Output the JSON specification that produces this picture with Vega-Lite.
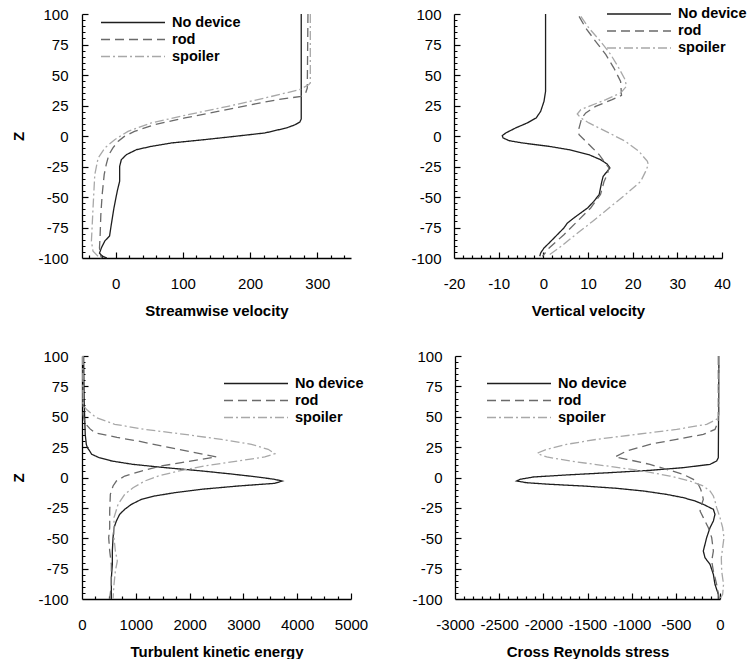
{
  "$schema": "https://vega.github.io/schema/vega-lite/v6.json",
  "padding": {"left": 11, "top": 6, "right": 0, "bottom": 0},
  "background": "white",
  "config": {
    "view": {"stroke": null},
    "font": "Liberation Sans",
    "axis": {
      "grid": false,
      "domainColor": "#000000",
      "domainWidth": 1.3,
      "tickColor": "#000000",
      "tickWidth": 1.2,
      "labelOverlap": false,
      "labelFlush": false,
      "labelFont": "Liberation Sans",
      "labelFontSize": 15,
      "labelColor": "#000000",
      "titleFont": "Liberation Sans",
      "titleFontSize": 15,
      "titleFontWeight": "bold",
      "titleColor": "#000000"
    },
    "legend": {
      "orient": "none",
      "title": null,
      "symbolType": "stroke",
      "symbolSize": 4096,
      "symbolStrokeWidth": 1.3,
      "labelFont": "Liberation Sans",
      "labelFontSize": 14.5,
      "labelFontWeight": "bold",
      "labelColor": "#000000",
      "labelOffset": 6,
      "rowPadding": 1,
      "clipHeight": 15,
      "padding": 0
    }
  },
  "data": {"values": [
    {"p":"sw","s":"No device","z":100,"v":276},{"p":"sw","s":"No device","z":14,"v":276},{"p":"sw","s":"No device","z":11.5,"v":274},{"p":"sw","s":"No device","z":9,"v":266},{"p":"sw","s":"No device","z":6.6,"v":254},{"p":"sw","s":"No device","z":2.5,"v":222},{"p":"sw","s":"No device","z":-0.3,"v":177},{"p":"sw","s":"No device","z":-3,"v":132},{"p":"sw","s":"No device","z":-5.7,"v":83},{"p":"sw","s":"No device","z":-8.5,"v":53},{"p":"sw","s":"No device","z":-11.2,"v":31},{"p":"sw","s":"No device","z":-15.3,"v":16},{"p":"sw","s":"No device","z":-19.4,"v":8.5},{"p":"sw","s":"No device","z":-24.9,"v":6},{"p":"sw","s":"No device","z":-37,"v":6},{"p":"sw","s":"No device","z":-45,"v":2.5},{"p":"sw","s":"No device","z":-58.7,"v":-2.4},{"p":"sw","s":"No device","z":-72.4,"v":-6.4},{"p":"sw","s":"No device","z":-82,"v":-9},{"p":"sw","s":"No device","z":-86,"v":-16},{"p":"sw","s":"No device","z":-91.5,"v":-21},{"p":"sw","s":"No device","z":-96,"v":-24},{"p":"sw","s":"No device","z":-98.5,"v":-20},{"p":"sw","s":"No device","z":-100,"v":-13},
    {"p":"sw","s":"rod","z":100,"v":286},{"p":"sw","s":"rod","z":39.3,"v":285},{"p":"sw","s":"rod","z":35.2,"v":282.5},{"p":"sw","s":"rod","z":32.5,"v":276},{"p":"sw","s":"rod","z":29.8,"v":241},{"p":"sw","s":"rod","z":25.7,"v":202},{"p":"sw","s":"rod","z":20.2,"v":152},{"p":"sw","s":"rod","z":14.8,"v":103},{"p":"sw","s":"rod","z":9.3,"v":58},{"p":"sw","s":"rod","z":3.8,"v":28},{"p":"sw","s":"rod","z":-0.3,"v":13},{"p":"sw","s":"rod","z":-4.4,"v":3.5},{"p":"sw","s":"rod","z":-9.8,"v":-4},{"p":"sw","s":"rod","z":-15.3,"v":-10},{"p":"sw","s":"rod","z":-23.5,"v":-14},{"p":"sw","s":"rod","z":-31.7,"v":-17},{"p":"sw","s":"rod","z":-48,"v":-20},{"p":"sw","s":"rod","z":-64.5,"v":-22},{"p":"sw","s":"rod","z":-80.9,"v":-23},{"p":"sw","s":"rod","z":-91.8,"v":-24},{"p":"sw","s":"rod","z":-98.6,"v":-22},{"p":"sw","s":"rod","z":-100,"v":-20},
    {"p":"sw","s":"spoiler","z":100,"v":289.5},{"p":"sw","s":"spoiler","z":43.4,"v":289.5},{"p":"sw","s":"spoiler","z":42,"v":287},{"p":"sw","s":"spoiler","z":38,"v":273.6},{"p":"sw","s":"spoiler","z":31.1,"v":221.6},{"p":"sw","s":"spoiler","z":24.3,"v":167},{"p":"sw","s":"spoiler","z":17.5,"v":107.6},{"p":"sw","s":"spoiler","z":10.7,"v":53},{"p":"sw","s":"spoiler","z":3.8,"v":18.4},{"p":"sw","s":"spoiler","z":-3,"v":-1.4},{"p":"sw","s":"spoiler","z":-9.8,"v":-16},{"p":"sw","s":"spoiler","z":-18,"v":-26},{"p":"sw","s":"spoiler","z":-31.7,"v":-31},{"p":"sw","s":"spoiler","z":-59,"v":-33.6},{"p":"sw","s":"spoiler","z":-86.3,"v":-36},{"p":"sw","s":"spoiler","z":-94.5,"v":-33.6},{"p":"sw","s":"spoiler","z":-98.6,"v":-26},{"p":"sw","s":"spoiler","z":-100,"v":-22},
    {"p":"vv","s":"No device","z":100,"v":0.5},{"p":"vv","s":"No device","z":36.6,"v":0.5},{"p":"vv","s":"No device","z":28.4,"v":0.15},{"p":"vv","s":"No device","z":20.2,"v":-0.6},{"p":"vv","s":"No device","z":14.8,"v":-1.6},{"p":"vv","s":"No device","z":10.7,"v":-3.6},{"p":"vv","s":"No device","z":6.6,"v":-6.2},{"p":"vv","s":"No device","z":2.5,"v":-8.4},{"p":"vv","s":"No device","z":0.3,"v":-9.2},{"p":"vv","s":"No device","z":-1.6,"v":-9},{"p":"vv","s":"No device","z":-3.8,"v":-7.7},{"p":"vv","s":"No device","z":-5.7,"v":-4.7},{"p":"vv","s":"No device","z":-8.5,"v":1.3},{"p":"vv","s":"No device","z":-11.2,"v":5.7},{"p":"vv","s":"No device","z":-15.3,"v":10.2},{"p":"vv","s":"No device","z":-19.4,"v":12.8},{"p":"vv","s":"No device","z":-23,"v":14.3},{"p":"vv","s":"No device","z":-26.2,"v":14.9},{"p":"vv","s":"No device","z":-29,"v":14.3},{"p":"vv","s":"No device","z":-33,"v":13.4},{"p":"vv","s":"No device","z":-37.2,"v":13.1},{"p":"vv","s":"No device","z":-42.6,"v":12.8},{"p":"vv","s":"No device","z":-48,"v":12.5},{"p":"vv","s":"No device","z":-53.6,"v":11.3},{"p":"vv","s":"No device","z":-59,"v":9.9},{"p":"vv","s":"No device","z":-63,"v":8.4},{"p":"vv","s":"No device","z":-67,"v":6.9},{"p":"vv","s":"No device","z":-71.3,"v":5.4},{"p":"vv","s":"No device","z":-75.4,"v":4.6},{"p":"vv","s":"No device","z":-79.5,"v":3.5},{"p":"vv","s":"No device","z":-83.6,"v":2.4},{"p":"vv","s":"No device","z":-87.7,"v":1.3},{"p":"vv","s":"No device","z":-91.8,"v":0.15},{"p":"vv","s":"No device","z":-95.9,"v":-0.6},{"p":"vv","s":"No device","z":-98.6,"v":-0.8},
    {"p":"vv","s":"rod","z":98,"v":8},{"p":"vv","s":"rod","z":88.5,"v":9.5},{"p":"vv","s":"rod","z":77.6,"v":11.7},{"p":"vv","s":"rod","z":66.7,"v":14},{"p":"vv","s":"rod","z":55.7,"v":15.8},{"p":"vv","s":"rod","z":44.8,"v":17.3},{"p":"vv","s":"rod","z":33.3,"v":17.5},{"p":"vv","s":"rod","z":29.8,"v":15.4},{"p":"vv","s":"rod","z":24.3,"v":11.7},{"p":"vv","s":"rod","z":18.9,"v":9.5},{"p":"vv","s":"rod","z":14.8,"v":8.6},{"p":"vv","s":"rod","z":12,"v":8.4},{"p":"vv","s":"rod","z":3.8,"v":7.8},{"p":"vv","s":"rod","z":1.1,"v":8},{"p":"vv","s":"rod","z":-4.4,"v":9.5},{"p":"vv","s":"rod","z":-9.8,"v":11},{"p":"vv","s":"rod","z":-15.3,"v":12.5},{"p":"vv","s":"rod","z":-20.8,"v":13.6},{"p":"vv","s":"rod","z":-26.2,"v":14.7},{"p":"vv","s":"rod","z":-31.7,"v":14.3},{"p":"vv","s":"rod","z":-37.2,"v":13.6},{"p":"vv","s":"rod","z":-48,"v":12.8},{"p":"vv","s":"rod","z":-59,"v":10.6},{"p":"vv","s":"rod","z":-70,"v":7.6},{"p":"vv","s":"rod","z":-80.9,"v":4.6},{"p":"vv","s":"rod","z":-91.8,"v":1.3},{"p":"vv","s":"rod","z":-98.6,"v":-0.2},
    {"p":"vv","s":"spoiler","z":98,"v":8.4},{"p":"vv","s":"spoiler","z":88.5,"v":10.2},{"p":"vv","s":"spoiler","z":77.6,"v":12.8},{"p":"vv","s":"spoiler","z":66.7,"v":15.1},{"p":"vv","s":"spoiler","z":55.7,"v":16.9},{"p":"vv","s":"spoiler","z":46.2,"v":18.3},{"p":"vv","s":"spoiler","z":40.7,"v":18.6},{"p":"vv","s":"spoiler","z":35.2,"v":17.3},{"p":"vv","s":"spoiler","z":29.8,"v":14},{"p":"vv","s":"spoiler","z":24.3,"v":10.2},{"p":"vv","s":"spoiler","z":21.6,"v":8.4},{"p":"vv","s":"spoiler","z":18,"v":7.6},{"p":"vv","s":"spoiler","z":14.8,"v":8.4},{"p":"vv","s":"spoiler","z":10.7,"v":10.2},{"p":"vv","s":"spoiler","z":3.8,"v":14},{"p":"vv","s":"spoiler","z":-4.4,"v":18.4},{"p":"vv","s":"spoiler","z":-12.6,"v":21.4},{"p":"vv","s":"spoiler","z":-20.8,"v":23.3},{"p":"vv","s":"spoiler","z":-23.5,"v":23.5},{"p":"vv","s":"spoiler","z":-29,"v":22.9},{"p":"vv","s":"spoiler","z":-37.2,"v":21.8},{"p":"vv","s":"spoiler","z":-48,"v":18.4},{"p":"vv","s":"spoiler","z":-59,"v":14.7},{"p":"vv","s":"spoiler","z":-70,"v":11},{"p":"vv","s":"spoiler","z":-80.9,"v":7.2},{"p":"vv","s":"spoiler","z":-91.8,"v":3.5},{"p":"vv","s":"spoiler","z":-98.6,"v":0.9},
    {"p":"tke","s":"No device","z":100,"v":30},{"p":"tke","s":"No device","z":63,"v":40},{"p":"tke","s":"No device","z":35.5,"v":60},{"p":"tke","s":"No device","z":27.3,"v":80},{"p":"tke","s":"No device","z":24.6,"v":100},{"p":"tke","s":"No device","z":21.8,"v":143},{"p":"tke","s":"No device","z":19.1,"v":180},{"p":"tke","s":"No device","z":16.3,"v":320},{"p":"tke","s":"No device","z":13.6,"v":550},{"p":"tke","s":"No device","z":10.8,"v":950},{"p":"tke","s":"No device","z":8.1,"v":1550},{"p":"tke","s":"No device","z":5.5,"v":2200},{"p":"tke","s":"No device","z":3,"v":2750},{"p":"tke","s":"No device","z":0.5,"v":3250},{"p":"tke","s":"No device","z":-1.5,"v":3580},{"p":"tke","s":"No device","z":-2.9,"v":3720},{"p":"tke","s":"No device","z":-4.8,"v":3584},{"p":"tke","s":"No device","z":-7,"v":2902},{"p":"tke","s":"No device","z":-9.7,"v":2220},{"p":"tke","s":"No device","z":-12.5,"v":1724},{"p":"tke","s":"No device","z":-15.2,"v":1352},{"p":"tke","s":"No device","z":-18,"v":1104},{"p":"tke","s":"No device","z":-22.1,"v":918},{"p":"tke","s":"No device","z":-26.2,"v":794},{"p":"tke","s":"No device","z":-30.3,"v":700},{"p":"tke","s":"No device","z":-35.8,"v":639},{"p":"tke","s":"No device","z":-41.3,"v":595},{"p":"tke","s":"No device","z":-49.5,"v":577},{"p":"tke","s":"No device","z":-60.5,"v":564},{"p":"tke","s":"No device","z":-71.5,"v":564},{"p":"tke","s":"No device","z":-82.4,"v":546},{"p":"tke","s":"No device","z":-93.4,"v":546},{"p":"tke","s":"No device","z":-100,"v":546},
    {"p":"tke","s":"rod","z":100,"v":20},{"p":"tke","s":"rod","z":52,"v":20},{"p":"tke","s":"rod","z":45,"v":50},{"p":"tke","s":"rod","z":40,"v":150},{"p":"tke","s":"rod","z":36.9,"v":236},{"p":"tke","s":"rod","z":33,"v":650},{"p":"tke","s":"rod","z":30,"v":1042},{"p":"tke","s":"rod","z":23.2,"v":1786},{"p":"tke","s":"rod","z":16.9,"v":2499},{"p":"tke","s":"rod","z":15,"v":2220},{"p":"tke","s":"rod","z":12.2,"v":1848},{"p":"tke","s":"rod","z":9.5,"v":1476},{"p":"tke","s":"rod","z":5.3,"v":1104},{"p":"tke","s":"rod","z":1.2,"v":794},{"p":"tke","s":"rod","z":-2.9,"v":639},{"p":"tke","s":"rod","z":-7,"v":577},{"p":"tke","s":"rod","z":-13.9,"v":527},{"p":"tke","s":"rod","z":-27.6,"v":515},{"p":"tke","s":"rod","z":-41.3,"v":515},{"p":"tke","s":"rod","z":-49.5,"v":496},{"p":"tke","s":"rod","z":-60.5,"v":515},{"p":"tke","s":"rod","z":-71.5,"v":546},{"p":"tke","s":"rod","z":-87.9,"v":546},{"p":"tke","s":"rod","z":-100,"v":515},
    {"p":"tke","s":"spoiler","z":100,"v":15},{"p":"tke","s":"spoiler","z":60,"v":20},{"p":"tke","s":"spoiler","z":56.1,"v":81},{"p":"tke","s":"spoiler","z":49.2,"v":267},{"p":"tke","s":"spoiler","z":43.8,"v":608},{"p":"tke","s":"spoiler","z":39.6,"v":1166},{"p":"tke","s":"spoiler","z":35.5,"v":1910},{"p":"tke","s":"spoiler","z":31.4,"v":2592},{"p":"tke","s":"spoiler","z":27.3,"v":3150},{"p":"tke","s":"spoiler","z":23.2,"v":3460},{"p":"tke","s":"spoiler","z":19.6,"v":3584},{"p":"tke","s":"spoiler","z":16.9,"v":3398},{"p":"tke","s":"spoiler","z":13.6,"v":2902},{"p":"tke","s":"spoiler","z":9.5,"v":2282},{"p":"tke","s":"spoiler","z":5.3,"v":1786},{"p":"tke","s":"spoiler","z":1.2,"v":1414},{"p":"tke","s":"spoiler","z":-2.9,"v":1166},{"p":"tke","s":"spoiler","z":-8.4,"v":949},{"p":"tke","s":"spoiler","z":-13.9,"v":794},{"p":"tke","s":"spoiler","z":-22.1,"v":670},{"p":"tke","s":"spoiler","z":-33,"v":595},{"p":"tke","s":"spoiler","z":-49.5,"v":595},{"p":"tke","s":"spoiler","z":-60.5,"v":620},{"p":"tke","s":"spoiler","z":-68.7,"v":657},{"p":"tke","s":"spoiler","z":-77,"v":620},{"p":"tke","s":"spoiler","z":-87.9,"v":595},{"p":"tke","s":"spoiler","z":-100,"v":577},
    {"p":"rs","s":"No device","z":100,"v":-12},{"p":"rs","s":"No device","z":16.3,"v":-19},{"p":"rs","s":"No device","z":13.6,"v":-38},{"p":"rs","s":"No device","z":10.8,"v":-113},{"p":"rs","s":"No device","z":8.1,"v":-415},{"p":"rs","s":"No device","z":5.9,"v":-793},{"p":"rs","s":"No device","z":4,"v":-1245},{"p":"rs","s":"No device","z":2.1,"v":-1736},{"p":"rs","s":"No device","z":0.4,"v":-2113},{"p":"rs","s":"No device","z":-1.5,"v":-2264},{"p":"rs","s":"No device","z":-2.9,"v":-2302},{"p":"rs","s":"No device","z":-4.3,"v":-2189},{"p":"rs","s":"No device","z":-5.6,"v":-1925},{"p":"rs","s":"No device","z":-7,"v":-1547},{"p":"rs","s":"No device","z":-8.9,"v":-1170},{"p":"rs","s":"No device","z":-11.1,"v":-868},{"p":"rs","s":"No device","z":-13.9,"v":-604},{"p":"rs","s":"No device","z":-16.6,"v":-415},{"p":"rs","s":"No device","z":-19.3,"v":-283},{"p":"rs","s":"No device","z":-22.1,"v":-189},{"p":"rs","s":"No device","z":-26.2,"v":-75},{"p":"rs","s":"No device","z":-30.3,"v":-57},{"p":"rs","s":"No device","z":-35.8,"v":-75},{"p":"rs","s":"No device","z":-41.3,"v":-113},{"p":"rs","s":"No device","z":-49.5,"v":-151},{"p":"rs","s":"No device","z":-55,"v":-170},{"p":"rs","s":"No device","z":-60.5,"v":-189},{"p":"rs","s":"No device","z":-66,"v":-170},{"p":"rs","s":"No device","z":-71.5,"v":-113},{"p":"rs","s":"No device","z":-79.7,"v":-75},{"p":"rs","s":"No device","z":-87.9,"v":-57},{"p":"rs","s":"No device","z":-96.2,"v":-19},{"p":"rs","s":"No device","z":-100,"v":-19},
    {"p":"rs","s":"rod","z":100,"v":-19},{"p":"rs","s":"rod","z":46.5,"v":-19},{"p":"rs","s":"rod","z":39.6,"v":-57},{"p":"rs","s":"rod","z":35.5,"v":-189},{"p":"rs","s":"rod","z":31.4,"v":-491},{"p":"rs","s":"rod","z":27.3,"v":-793},{"p":"rs","s":"rod","z":21.8,"v":-1057},{"p":"rs","s":"rod","z":16.9,"v":-1189},{"p":"rs","s":"rod","z":15,"v":-1057},{"p":"rs","s":"rod","z":10.8,"v":-793},{"p":"rs","s":"rod","z":6.7,"v":-604},{"p":"rs","s":"rod","z":2.6,"v":-415},{"p":"rs","s":"rod","z":-1.5,"v":-302},{"p":"rs","s":"rod","z":-5.6,"v":-245},{"p":"rs","s":"rod","z":-9.7,"v":-219},{"p":"rs","s":"rod","z":-13.9,"v":-200},{"p":"rs","s":"rod","z":-18,"v":-189},{"p":"rs","s":"rod","z":-22.1,"v":-208},{"p":"rs","s":"rod","z":-27.6,"v":-226},{"p":"rs","s":"rod","z":-33,"v":-189},{"p":"rs","s":"rod","z":-41.3,"v":-132},{"p":"rs","s":"rod","z":-49.5,"v":-94},{"p":"rs","s":"rod","z":-60.5,"v":-75},{"p":"rs","s":"rod","z":-68.7,"v":-94},{"p":"rs","s":"rod","z":-77,"v":-75},{"p":"rs","s":"rod","z":-87.9,"v":-38},{"p":"rs","s":"rod","z":-100,"v":-8},
    {"p":"rs","s":"spoiler","z":100,"v":-8},{"p":"rs","s":"spoiler","z":52,"v":-8},{"p":"rs","s":"spoiler","z":47.9,"v":-38},{"p":"rs","s":"spoiler","z":43.8,"v":-151},{"p":"rs","s":"spoiler","z":39.6,"v":-491},{"p":"rs","s":"spoiler","z":35.5,"v":-944},{"p":"rs","s":"spoiler","z":31.4,"v":-1396},{"p":"rs","s":"spoiler","z":27.3,"v":-1736},{"p":"rs","s":"spoiler","z":23.2,"v":-1962},{"p":"rs","s":"spoiler","z":20.4,"v":-2057},{"p":"rs","s":"spoiler","z":19.6,"v":-2068},{"p":"rs","s":"spoiler","z":16.9,"v":-1962},{"p":"rs","s":"spoiler","z":13.6,"v":-1698},{"p":"rs","s":"spoiler","z":9.5,"v":-1283},{"p":"rs","s":"spoiler","z":5.3,"v":-868},{"p":"rs","s":"spoiler","z":1.2,"v":-566},{"p":"rs","s":"spoiler","z":-2.9,"v":-340},{"p":"rs","s":"spoiler","z":-7,"v":-189},{"p":"rs","s":"spoiler","z":-11.1,"v":-113},{"p":"rs","s":"spoiler","z":-15.2,"v":-75},{"p":"rs","s":"spoiler","z":-19.3,"v":-57},{"p":"rs","s":"spoiler","z":-24.8,"v":-38},{"p":"rs","s":"spoiler","z":-33,"v":0},{"p":"rs","s":"spoiler","z":-41.3,"v":30},{"p":"rs","s":"spoiler","z":-49.5,"v":45},{"p":"rs","s":"spoiler","z":-66,"v":15},{"p":"rs","s":"spoiler","z":-77,"v":19},{"p":"rs","s":"spoiler","z":-87.9,"v":40},{"p":"rs","s":"spoiler","z":-96.2,"v":30},{"p":"rs","s":"spoiler","z":-100,"v":0}
  ]},
  "spacing": 31,
  "resolve": {"scale": {"color": "independent", "strokeDash": "independent"}, "legend": {"color": "independent", "strokeDash": "independent"}},
  "vconcat": [
    {
      "spacing": 59,
      "resolve": {"scale": {"color": "independent", "strokeDash": "independent"}, "legend": {"color": "independent", "strokeDash": "independent"}},
      "hconcat": [
        {
          "width": 269, "height": 244,
          "transform": [{"filter": "datum.p === 'sw'"}],
          "resolve": {"axis": {"x": "independent", "y": "independent"}},
          "layer": [
            {
              "mark": {"type": "line", "strokeWidth": 1.3},
              "encoding": {
                "x": {"field": "v", "type": "quantitative", "scale": {"domain": [-50, 350], "nice": false, "zero": false},
                  "axis": {"orient": "bottom", "title": "Streamwise velocity", "ticks": false, "values": [0, 100, 200, 300], "labelExpr": "'' + datum.value", "labelPadding": 18, "titlePadding": 12}},
                "y": {"field": "z", "type": "quantitative", "scale": {"domain": [-100, 100], "nice": false},
                  "axis": {"orient": "left", "title": "Z", "ticks": false, "values": [-100, -75, -50, -25, 0, 25, 50, 75, 100], "labelExpr": "'' + datum.value", "labelPadding": 14, "titlePadding": 11}},
                "color": {"field": "s", "type": "nominal", "scale": {"domain": ["No device", "rod", "spoiler"], "range": ["#1e1e1e", "#6a6a6a", "#a8a8a8"]},
                  "legend": {"legendX": 18, "legendY": 1}},
                "strokeDash": {"field": "s", "type": "nominal", "scale": {"domain": ["No device", "rod", "spoiler"], "range": [[1, 0], [9, 5], [9, 3, 2, 3]]},
                  "legend": {"legendX": 18, "legendY": 1}},
                "order": {"field": "z", "type": "quantitative", "sort": "descending"}
              }
            },
            {
              "mark": {"type": "line", "opacity": 0},
              "encoding": {
                "x": {"field": "v", "type": "quantitative",
                  "axis": {"orient": "bottom", "offset": -6, "domain": false, "labels": false, "title": null, "ticks": true, "tickSize": 6,
                    "values": [-40,-20,0,20,40,60,80,100,120,140,160,180,200,220,240,260,280,300,320,340],
                    "tickDash": {"condition": {"test": "datum.value % 100 === 0", "value": [6, 0]}, "value": [0, 3, 3]}}},
                "y": {"field": "z", "type": "quantitative",
                  "axis": {"orient": "left", "offset": -6, "domain": false, "labels": false, "title": null, "ticks": true, "tickSize": 6,
                    "values": [-95,-90,-85,-80,-75,-70,-65,-60,-55,-50,-45,-40,-35,-30,-25,-20,-15,-10,-5,0,5,10,15,20,25,30,35,40,45,50,55,60,65,70,75,80,85,90,95,100],
                    "tickDash": {"condition": {"test": "datum.value % 25 === 0", "value": [6, 0]}, "value": [0, 3, 3]}}}
              }
            }
          ]
        },
        {
          "width": 268, "height": 244,
          "transform": [{"filter": "datum.p === 'vv'"}],
          "resolve": {"axis": {"x": "independent", "y": "independent"}},
          "layer": [
            {
              "mark": {"type": "line", "strokeWidth": 1.3},
              "encoding": {
                "x": {"field": "v", "type": "quantitative", "scale": {"domain": [-20, 40], "nice": false, "zero": false},
                  "axis": {"orient": "bottom", "title": "Vertical velocity", "ticks": false, "values": [-20, -10, 0, 10, 20, 30, 40], "labelExpr": "'' + datum.value", "labelPadding": 18, "titlePadding": 12}},
                "y": {"field": "z", "type": "quantitative", "scale": {"domain": [-100, 100], "nice": false},
                  "axis": {"orient": "left", "title": null, "ticks": false, "values": [-100, -75, -50, -25, 0, 25, 50, 75, 100], "labelExpr": "'' + datum.value", "labelPadding": 13}},
                "color": {"field": "s", "type": "nominal", "scale": {"domain": ["No device", "rod", "spoiler"], "range": ["#1e1e1e", "#6a6a6a", "#a8a8a8"]},
                  "legend": {"legendX": 152, "legendY": -7.5}},
                "strokeDash": {"field": "s", "type": "nominal", "scale": {"domain": ["No device", "rod", "spoiler"], "range": [[1, 0], [9, 5], [9, 3, 2, 3]]},
                  "legend": {"legendX": 152, "legendY": -7.5}},
                "order": {"field": "z", "type": "quantitative", "sort": "descending"}
              }
            },
            {
              "mark": {"type": "line", "opacity": 0},
              "encoding": {
                "x": {"field": "v", "type": "quantitative",
                  "axis": {"orient": "bottom", "offset": -6, "domain": false, "labels": false, "title": null, "ticks": true, "tickSize": 6,
                    "values": [-18,-16,-14,-12,-10,-8,-6,-4,-2,0,2,4,6,8,10,12,14,16,18,20,22,24,26,28,30,32,34,36,38,40],
                    "tickDash": {"condition": {"test": "datum.value % 10 === 0", "value": [6, 0]}, "value": [0, 3, 3]}}},
                "y": {"field": "z", "type": "quantitative",
                  "axis": {"orient": "left", "offset": -6, "domain": false, "labels": false, "title": null, "ticks": true, "tickSize": 6,
                    "values": [-95,-90,-85,-80,-75,-70,-65,-60,-55,-50,-45,-40,-35,-30,-25,-20,-15,-10,-5,0,5,10,15,20,25,30,35,40,45,50,55,60,65,70,75,80,85,90,95,100],
                    "tickDash": {"condition": {"test": "datum.value % 25 === 0", "value": [6, 0]}, "value": [0, 3, 3]}}}
              }
            }
          ]
        }
      ]
    },
    {
      "spacing": 43,
      "resolve": {"scale": {"color": "independent", "strokeDash": "independent"}, "legend": {"color": "independent", "strokeDash": "independent"}},
      "hconcat": [
        {
          "width": 269, "height": 243,
          "transform": [{"filter": "datum.p === 'tke'"}],
          "resolve": {"axis": {"x": "independent", "y": "independent"}},
          "layer": [
            {
              "mark": {"type": "line", "strokeWidth": 1.3},
              "encoding": {
                "x": {"field": "v", "type": "quantitative", "scale": {"domain": [0, 5000], "nice": false, "zero": false},
                  "axis": {"orient": "bottom", "title": "Turbulent kinetic energy", "ticks": false, "values": [0, 1000, 2000, 3000, 4000, 5000], "labelExpr": "'' + datum.value", "labelPadding": 18, "titlePadding": 12}},
                "y": {"field": "z", "type": "quantitative", "scale": {"domain": [-100, 100], "nice": false},
                  "axis": {"orient": "left", "title": "Z", "ticks": false, "values": [-100, -75, -50, -25, 0, 25, 50, 75, 100], "labelExpr": "'' + datum.value", "labelPadding": 14, "titlePadding": 11}},
                "color": {"field": "s", "type": "nominal", "scale": {"domain": ["No device", "rod", "spoiler"], "range": ["#1e1e1e", "#6a6a6a", "#a8a8a8"]},
                  "legend": {"legendX": 141, "legendY": 20}},
                "strokeDash": {"field": "s", "type": "nominal", "scale": {"domain": ["No device", "rod", "spoiler"], "range": [[1, 0], [9, 5], [9, 3, 2, 3]]},
                  "legend": {"legendX": 141, "legendY": 20}},
                "order": {"field": "z", "type": "quantitative", "sort": "descending"}
              }
            },
            {
              "mark": {"type": "line", "opacity": 0},
              "encoding": {
                "x": {"field": "v", "type": "quantitative",
                  "axis": {"orient": "bottom", "offset": -6, "domain": false, "labels": false, "title": null, "ticks": true, "tickSize": 6,
                    "values": [250,500,750,1000,1250,1500,1750,2000,2250,2500,2750,3000,3250,3500,3750,4000,4250,4500,4750,5000],
                    "tickDash": {"condition": {"test": "datum.value % 1000 === 0", "value": [6, 0]}, "value": [0, 3, 3]}}},
                "y": {"field": "z", "type": "quantitative",
                  "axis": {"orient": "left", "offset": -6, "domain": false, "labels": false, "title": null, "ticks": true, "tickSize": 6,
                    "values": [-95,-90,-85,-80,-75,-70,-65,-60,-55,-50,-45,-40,-35,-30,-25,-20,-15,-10,-5,0,5,10,15,20,25,30,35,40,45,50,55,60,65,70,75,80,85,90,95,100],
                    "tickDash": {"condition": {"test": "datum.value % 25 === 0", "value": [6, 0]}, "value": [0, 3, 3]}}}
              }
            }
          ]
        },
        {
          "width": 265, "height": 243,
          "transform": [{"filter": "datum.p === 'rs'"}],
          "resolve": {"axis": {"x": "independent", "y": "independent"}},
          "layer": [
            {
              "mark": {"type": "line", "strokeWidth": 1.3},
              "encoding": {
                "x": {"field": "v", "type": "quantitative", "scale": {"domain": [-3000, 0], "nice": false, "zero": false},
                  "axis": {"orient": "bottom", "title": "Cross Reynolds stress", "ticks": false, "values": [-3000, -2500, -2000, -1500, -1000, -500, 0], "labelExpr": "'' + datum.value", "labelPadding": 18, "titlePadding": 12}},
                "y": {"field": "z", "type": "quantitative", "scale": {"domain": [-100, 100], "nice": false},
                  "axis": {"orient": "left", "title": null, "ticks": false, "values": [-100, -75, -50, -25, 0, 25, 50, 75, 100], "labelExpr": "'' + datum.value", "labelPadding": 13}},
                "color": {"field": "s", "type": "nominal", "scale": {"domain": ["No device", "rod", "spoiler"], "range": ["#1e1e1e", "#6a6a6a", "#a8a8a8"]},
                  "legend": {"legendX": 31, "legendY": 20}},
                "strokeDash": {"field": "s", "type": "nominal", "scale": {"domain": ["No device", "rod", "spoiler"], "range": [[1, 0], [9, 5], [9, 3, 2, 3]]},
                  "legend": {"legendX": 31, "legendY": 20}},
                "order": {"field": "z", "type": "quantitative", "sort": "descending"}
              }
            },
            {
              "mark": {"type": "line", "opacity": 0},
              "encoding": {
                "x": {"field": "v", "type": "quantitative",
                  "axis": {"orient": "bottom", "offset": -6, "domain": false, "labels": false, "title": null, "ticks": true, "tickSize": 6,
                    "values": [-2900,-2800,-2700,-2600,-2500,-2400,-2300,-2200,-2100,-2000,-1900,-1800,-1700,-1600,-1500,-1400,-1300,-1200,-1100,-1000,-900,-800,-700,-600,-500,-400,-300,-200,-100,0],
                    "tickDash": {"condition": {"test": "datum.value % 500 === 0", "value": [6, 0]}, "value": [0, 3, 3]}}},
                "y": {"field": "z", "type": "quantitative",
                  "axis": {"orient": "left", "offset": -6, "domain": false, "labels": false, "title": null, "ticks": true, "tickSize": 6,
                    "values": [-95,-90,-85,-80,-75,-70,-65,-60,-55,-50,-45,-40,-35,-30,-25,-20,-15,-10,-5,0,5,10,15,20,25,30,35,40,45,50,55,60,65,70,75,80,85,90,95,100],
                    "tickDash": {"condition": {"test": "datum.value % 25 === 0", "value": [6, 0]}, "value": [0, 3, 3]}}}
              }
            }
          ]
        }
      ]
    }
  ]
}
